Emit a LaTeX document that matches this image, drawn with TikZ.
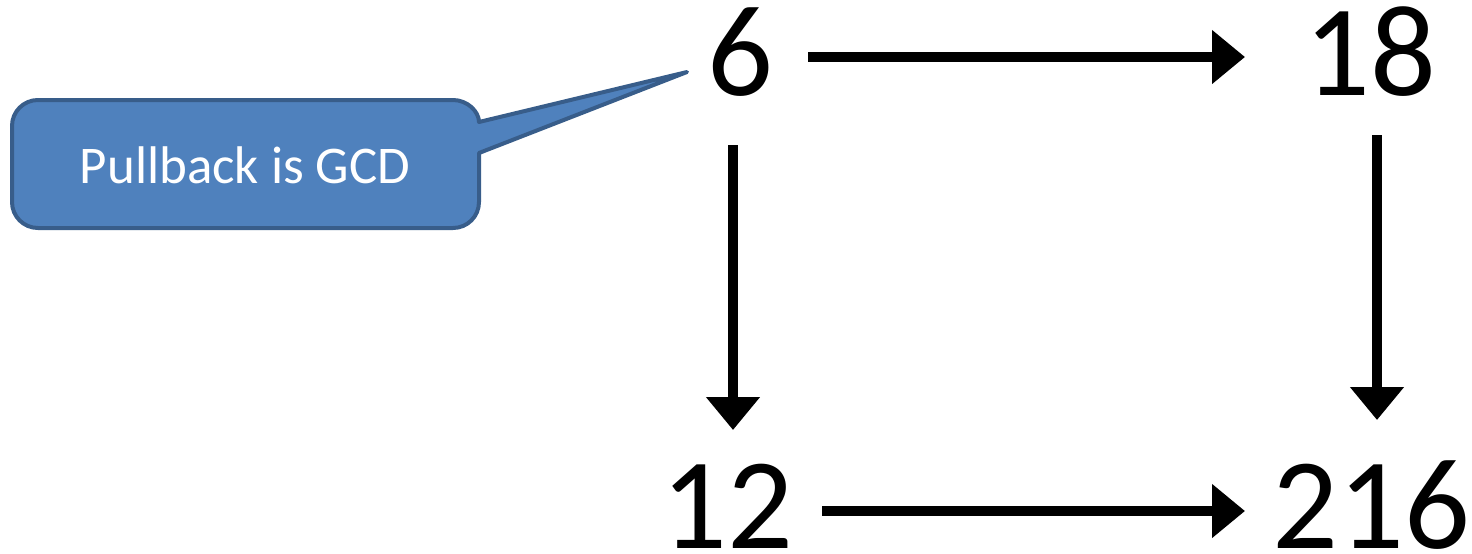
\documentclass[tikz,border=0pt]{standalone}
\usepackage{fontspec}
\setmainfont{Carlito}
\usetikzlibrary{arrows.meta,calc}
\definecolor{calloutfill}{HTML}{4F81BD}
\definecolor{calloutline}{HTML}{385D8A}
\begin{document}
\begin{tikzpicture}[x=0.5pt,y=-0.5pt,
  num/.style={inner sep=0pt, anchor=base, font=\fontsize{65pt}{78pt}\selectfont},
  arr/.style={line width=5pt, -{Triangle[length=16.5pt,width=26pt]}},
  bubble/.style={fill=calloutfill, draw=calloutline, line width=2pt, line join=round},
  bubbletext/.style={inner sep=0pt, anchor=base, text=white, font=\fontsize{26.5pt}{32pt}\selectfont}]
\useasboundingbox (0,0) rectangle (1472,553);

% the four numbers of the square
\node[num] (g) at (740,95) {6};
\node[num] (a) at (1370,95) {18};
\node[num] (c) at (727,548) {12};
\node[num] (d) at (1371,548) {216};

% arrows of the square
\draw[arr] ($(g.base)+(68,-38)$) -- ($(a.base)+(-125,-38)$);
\draw[arr] ($(g.base)+(-7,50)$) -- ($(c.base)+(6,-118)$);
\draw[arr] ($(a.base)+(7,40)$) -- ($(d.base)+(6,-128)$);
\draw[arr] ($(c.base)+(95,-37)$) -- ($(d.base)+(-126,-37)$);

% speech bubble pointing at the pullback (corner radius 26)
\coordinate (tip) at ($(g.base)+(-53,-23)$);
\draw[bubble] (479,122) -- (tip) -- (479,153) -- (479,202)
  .. controls (479,216.4) and (467.4,228) .. (453,228) -- (38,228)
  .. controls (23.6,228) and (12,216.4) .. (12,202) -- (12,126)
  .. controls (12,111.6) and (23.6,100) .. (38,100) -- (453,100)
  .. controls (467.4,100) and (479,111.6) .. (479,122) -- cycle;
\node[bubbletext] (callout) at (245,183) {Pullback is GCD};
\end{tikzpicture}
\end{document}
